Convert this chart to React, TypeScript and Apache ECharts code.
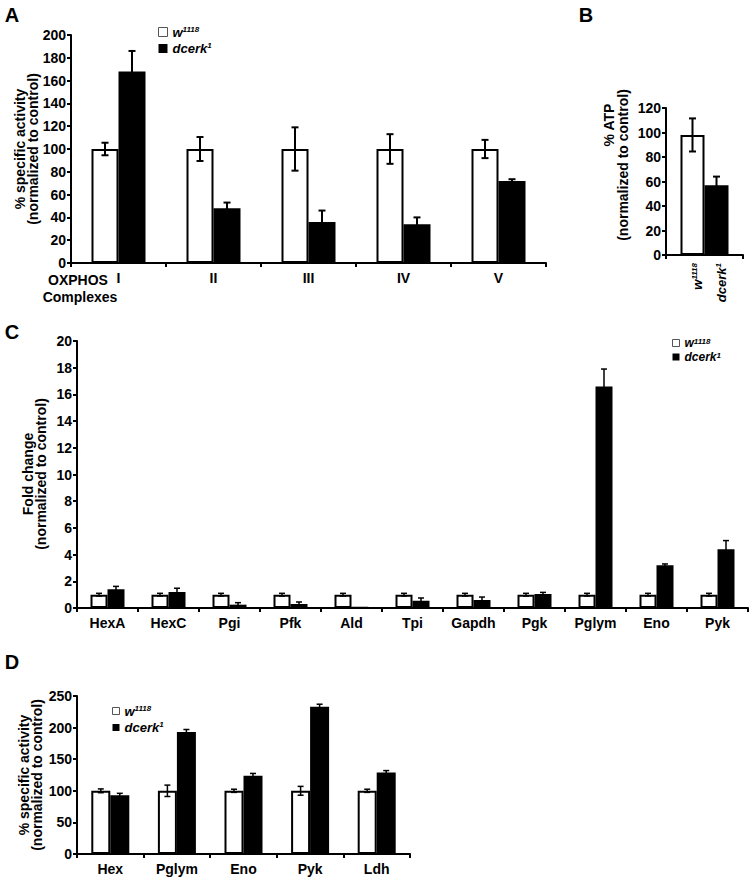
import React, { useEffect, useRef } from "react";
import * as echarts from "echarts";

const FONT = '"Liberation Sans", Arial, Helvetica, sans-serif';

// ---- Panel A: OXPHOS complexes ----
const oxphosCategories = ["I", "II", "III", "IV", "V"];
const oxphosControl = [100, 100, 100, 100, 100];
const oxphosControlErr = [5.5, 10.5, 19, 13, 8];
const oxphosMutant = [168, 48, 36, 34, 72];
const oxphosMutantErr = [18, 5, 10, 6, 1.5];
const oxphosYTicks = { min: 0, max: 200, interval: 20 };

// ---- Panel B: ATP ----
const atpCategories = [""];
const atpControl = [98];
const atpControlErr = [13.5];
const atpMutant = [57];
const atpMutantErr = [7];
const atpYTicks = { min: 0, max: 120, interval: 20 };

// ---- Panel C: glycolytic gene fold change ----
const glycCategories = ["HexA", "HexC", "Pgi", "Pfk", "Ald", "Tpi", "Gapdh", "Pgk", "Pglym", "Eno", "Pyk"];
const glycControl = [1, 1, 1, 1, 1, 1, 1, 1, 1, 1, 1];
const glycControlErr = [0.1, 0.1, 0.1, 0.1, 0.1, 0.1, 0.1, 0.1, 0.1, 0.1, 0.1];
const glycMutant = [1.4, 1.2, 0.25, 0.3, 0.03, 0.55, 0.6, 1.05, 16.6, 3.2, 4.4];
const glycMutantErr = [0.22, 0.28, 0.15, 0.15, 0, 0.2, 0.22, 0.12, 1.3, 0.1, 0.65];
const glycYTicks = { min: 0, max: 20, interval: 2 };

// ---- Panel D: enzyme specific activity ----
const enzCategories = ["Hex", "Pglym", "Eno", "Pyk", "Ldh"];
const enzControl = [100, 100, 100, 100, 100];
const enzControlErr = [3, 9, 2.5, 7, 2.5];
const enzMutant = [93, 193, 124, 233, 129];
const enzMutantErr = [3, 4, 3.5, 4, 3];
const enzYTicks = { min: 0, max: 250, interval: 50 };

const CONTROL = "w1118";
const MUTANT = "dcerk1";

const grids = [
  { left: 71, top: 35, width: 475, height: 228 },
  { left: 666, top: 108, width: 77, height: 147 },
  { left: 77, top: 341, width: 671, height: 267 },
  { left: 77, top: 696, width: 333, height: 158 },
];

function xAxis(g: number, cats: string[], showLabel = true) {
  return {
    type: "category",
    gridIndex: g,
    data: cats,
    axisLine: { lineStyle: { color: "#000", width: 2 } },
    axisTick: { show: true, length: 4, lineStyle: { color: "#000", width: 2 } },
    axisLabel: {
      show: showLabel,
      interval: 0,
      color: "#000",
      fontWeight: "bold",
      fontSize: 14,
      fontFamily: FONT,
      margin: 8,
    },
    splitLine: { show: false },
  };
}

function yAxis(g: number, t: { min: number; max: number; interval: number }) {
  return {
    type: "value",
    gridIndex: g,
    min: t.min,
    max: t.max,
    interval: t.interval,
    axisLine: { show: true, lineStyle: { color: "#000", width: 2 } },
    axisTick: { show: true, length: 4, lineStyle: { color: "#000", width: 2 } },
    axisLabel: { color: "#000", fontWeight: "bold", fontSize: 14, fontFamily: FONT, margin: 5 },
    splitLine: { show: false },
  };
}

function bars(g: number, name: string, values: number[], fill: string, barWidth: number) {
  return {
    type: "bar",
    name,
    xAxisIndex: g,
    yAxisIndex: g,
    data: values,
    barWidth,
    barGap: "0%",
    silent: true,
    z: 2,
    itemStyle: { color: fill, borderColor: "#000", borderWidth: 2 },
  };
}

function errs(g: number, values: number[], errors: number[], side: number, barWidth: number, capW: number, lw: number) {
  return {
    type: "custom",
    xAxisIndex: g,
    yAxisIndex: g,
    silent: true,
    z: 5,
    data: values.map((v, i) => [i, v, errors[i]]),
    renderItem: (params: any, api: any) => {
      const i = api.value(0);
      const v = api.value(1);
      const e = api.value(2);
      if (!e) return { type: "group", children: [] };
      const top = api.coord([i, v + e]);
      const bot = api.coord([i, Math.max(0, v - e)]);
      const x = top[0] + (side * barWidth) / 2;
      const style = { stroke: "#000", lineWidth: lw, fill: "none" };
      return {
        type: "group",
        children: [
          { type: "line", shape: { x1: x, y1: bot[1], x2: x, y2: top[1] }, style },
          { type: "line", shape: { x1: x - capW / 2, y1: top[1], x2: x + capW / 2, y2: top[1] }, style },
          { type: "line", shape: { x1: x - capW / 2, y1: bot[1], x2: x + capW / 2, y2: bot[1] }, style },
        ],
      };
    },
  };
}

function legend(left: number, top: number, sq: number, fs: number, sfs: number, lh: number, gap: number) {
  return {
    left,
    top,
    orient: "vertical",
    padding: 0,
    itemWidth: sq,
    itemHeight: sq,
    itemGap: gap,
    selectedMode: false,
    data: [
      { name: CONTROL, icon: "rect", itemStyle: { color: "#fff", borderColor: "#555", borderWidth: 1 } },
      { name: MUTANT, icon: "rect", itemStyle: { color: "#000", borderColor: "#000", borderWidth: 0 } },
    ],
    formatter: (name: string) => (name === CONTROL ? "{i|w}{s|1118}" : "{i|dcerk}{s|1}"),
    textStyle: {
      rich: {
        i: { fontSize: fs, fontWeight: "bold", fontStyle: "italic", fontFamily: FONT, color: "#000", lineHeight: lh },
        s: { fontSize: sfs, fontWeight: "bold", fontStyle: "italic", fontFamily: FONT, color: "#000", verticalAlign: "top", lineHeight: sfs + 1 },
      },
    },
  };
}

function label(text: string, x: number, y: number, size: number, rotate = false, align = "center") {
  return {
    type: "text",
    x,
    y,
    rotation: rotate ? Math.PI / 2 : 0,
    silent: true,
    style: {
      text,
      font: `bold ${size}px ${FONT}`,
      fill: "#000",
      align,
      verticalAlign: "middle",
    },
  };
}

function richRotated(text: string, x: number, y: number) {
  return {
    type: "text",
    x,
    y,
    rotation: Math.PI / 2,
    silent: true,
    style: {
      text,
      align: "right",
      verticalAlign: "middle",
      rich: {
        i: { fontSize: 13, fontWeight: "bold", fontStyle: "italic", fontFamily: FONT, fill: "#000", lineHeight: 14 },
        s: { fontSize: 8, fontWeight: "bold", fontStyle: "italic", fontFamily: FONT, fill: "#000", verticalAlign: "top", lineHeight: 9 },
      },
    },
  };
}

function buildOption() {
  return {
    animation: false,
    backgroundColor: "#fff",
    grid: grids,
    xAxis: [
      xAxis(0, oxphosCategories),
      xAxis(1, atpCategories, false),
      xAxis(2, glycCategories),
      xAxis(3, enzCategories),
    ],
    yAxis: [yAxis(0, oxphosYTicks), yAxis(1, atpYTicks), yAxis(2, glycYTicks), yAxis(3, enzYTicks)],
    legend: [
      legend(158, 25, 9, 13, 8, 14, 3),
      legend(672, 337, 7, 12, 8, 12, 2),
      legend(112, 704, 7, 13, 8, 14, 3),
    ],
    series: [
      bars(0, CONTROL, oxphosControl, "#fff", 27),
      bars(0, MUTANT, oxphosMutant, "#000", 27),
      errs(0, oxphosControl, oxphosControlErr, -1, 27, 7, 2),
      errs(0, oxphosMutant, oxphosMutantErr, 1, 27, 7, 2),

      bars(1, CONTROL, atpControl, "#fff", 24),
      bars(1, MUTANT, atpMutant, "#000", 24),
      errs(1, atpControl, atpControlErr, -1, 24, 7, 2),
      errs(1, atpMutant, atpMutantErr, 1, 24, 7, 2),

      bars(2, CONTROL, glycControl, "#fff", 17),
      bars(2, MUTANT, glycMutant, "#000", 17),
      errs(2, glycControl, glycControlErr, -1, 17, 6, 1.5),
      errs(2, glycMutant, glycMutantErr, 1, 17, 6, 1.5),

      bars(3, CONTROL, enzControl, "#fff", 19),
      bars(3, MUTANT, enzMutant, "#000", 19),
      errs(3, enzControl, enzControlErr, -1, 19, 6, 1.5),
      errs(3, enzMutant, enzMutantErr, 1, 19, 6, 1.5),
    ],
    graphic: [
      label("A", 12, 15, 20),
      label("B", 586, 15, 20),
      label("C", 12, 332, 20),
      label("D", 12, 662, 20),
      // Panel A y-axis title
      label("% specific activity", 20, 149, 14, true),
      label("(normalized to control)", 33, 149, 14, true),
      label("OXPHOS", 78, 280, 14),
      label("Complexes", 80, 297, 14),
      // Panel B y-axis title and bar labels
      label("% ATP", 609, 125, 14, true),
      label("(normalized to control)", 623, 165, 14, true),
      richRotated("{i|w}{s|1118}", 697, 263),
      richRotated("{i|dcerk}{s|1}", 721, 263),
      // Panel C y-axis title
      label("Fold change", 28, 474, 14, true),
      label("(normalized to control)", 41, 474, 14, true),
      // Panel D y-axis title
      label("% specific activity", 24, 775, 14, true),
      label("(normalized to control)", 37, 775, 14, true),
    ],
  };
}

export default function App() {
  const ref = useRef<HTMLDivElement>(null);
  useEffect(() => {
    if (!ref.current) return;
    const chart = echarts.init(ref.current, null, { renderer: "svg" });
    chart.setOption(buildOption() as any);
    return () => chart.dispose();
  }, []);
  return (
    <div
      ref={ref}
      style={{ position: "absolute", left: 0, top: 0, width: 752, height: 879, background: "#fff" }}
    />
  );
}
